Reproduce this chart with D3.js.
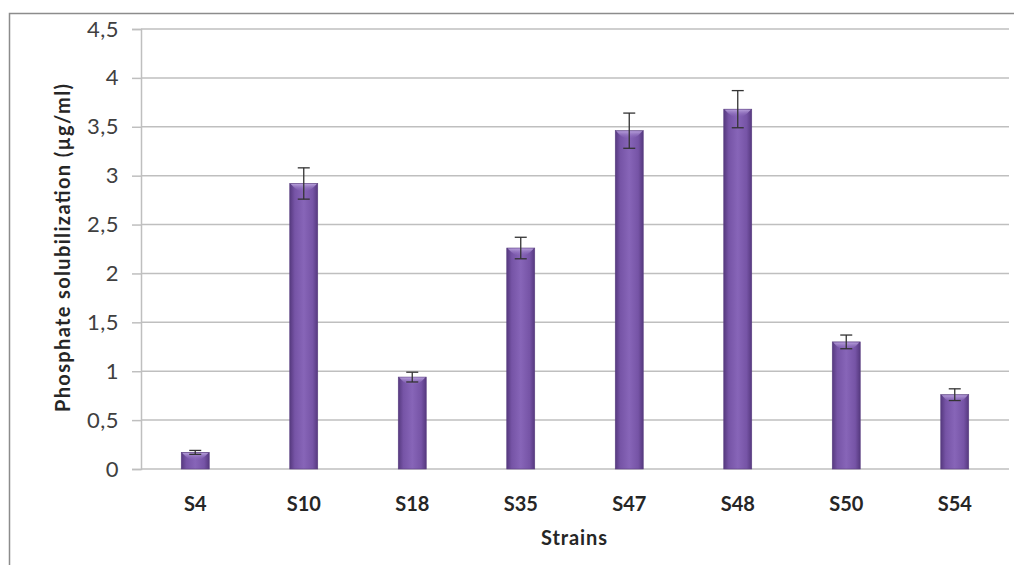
<!DOCTYPE html>
<html><head><meta charset="utf-8">
<script src="https://cdn.jsdelivr.net/npm/d3@7"></script>
<style>html,body{margin:0;padding:0;background:#fff;}svg{display:block;}</style>
</head><body>
<svg id="c" width="1014" height="565"></svg>
<script>
const categories = ["S4","S10","S18","S35","S47","S48","S50","S54"];
const values = [0.17, 2.92, 0.94, 2.26, 3.46, 3.68, 1.30, 0.76];
const errors = [0.02, 0.16, 0.05, 0.11, 0.18, 0.19, 0.07, 0.06];
const yTicks = [0, 0.5, 1, 1.5, 2, 2.5, 3, 3.5, 4, 4.5];
const yTitle = "Phosphate solubilization  (µg/ml)";
const xTitle = "Strains";

const svg = d3.select("#c");
const m = {left:141, right:1009, top:29, bottom:469};
const x = d3.scaleBand().domain(categories).range([m.left, m.right]);
const y = d3.scaleLinear().domain([0, 4.5]).range([m.bottom, m.top]);
const font = "Lato, 'Open Sans', sans-serif";

// outer border
svg.append("path").attr("d","M9.5,565 V13.5 H1014").attr("fill","none").attr("stroke","#8c8c8c").attr("stroke-width",1.5);

// gradients
const defs = svg.append("defs");
const g = defs.append("linearGradient").attr("id","barg").attr("x1","0").attr("x2","1").attr("y1","0").attr("y2","0");
[[0,"#56397f"],[0.18,"#7654a6"],[0.5,"#8765b8"],[0.82,"#7654a6"],[1,"#56397f"]].forEach(s=>g.append("stop").attr("offset",s[0]).attr("stop-color",s[1]));
const cap = defs.append("linearGradient").attr("id","capg").attr("x1","0").attr("x2","0").attr("y1","0").attr("y2","1");
[[0,"#b9a2dc",0.95],[1,"#8765b8",0]].forEach(s=>cap.append("stop").attr("offset",s[0]).attr("stop-color",s[1]).attr("stop-opacity",s[2]));

// grid + ticks
const yAxis = d3.axisLeft(y).tickValues(yTicks).tickSize(9).tickFormat(d=>String(d).replace(".",","));
const ga = svg.append("g").attr("transform",`translate(${m.left},0)`).call(yAxis);
ga.select(".domain").attr("stroke","#bfbfbf").attr("stroke-width",1.5);
ga.selectAll(".tick line").attr("stroke","#bfbfbf").attr("stroke-width",1.5);
ga.selectAll(".tick text").attr("x",-22).attr("font-family",font).attr("font-size",22).attr("letter-spacing",0.5).attr("fill","#404040");
svg.append("g").selectAll("line").data(yTicks).join("line")
  .attr("x1",m.left).attr("x2",m.right).attr("y1",d=>y(d)).attr("y2",d=>y(d))
  .attr("stroke","#bfbfbf").attr("stroke-width",1.5);

// bars
const bw = 28;
const bars = svg.append("g").selectAll("g").data(categories).join("g");
bars.append("rect")
  .attr("x",(d)=>x(d)+x.bandwidth()/2-bw/2).attr("y",(d,i)=>y(values[i]))
  .attr("width",bw).attr("height",(d,i)=>y(0)-y(values[i]))
  .attr("fill","url(#barg)").attr("stroke","#5a3f80").attr("stroke-width",0.6);
bars.append("path")
  .attr("d",(d,i)=>{const x0=x(d)+x.bandwidth()/2-bw/2, t=y(values[i]); const h=Math.min(10,(y(0)-t)*0.6);
    return `M${x0+1},${t+0.5} H${x0+bw-1} Q${x0+bw/2},${t+h*1.6} ${x0+1},${t+0.5} Z`;})
  .attr("fill","url(#capg)");

// error bars
const eb = svg.append("g").attr("stroke","#333").attr("stroke-width",1.3);
categories.forEach((c,i)=>{
  const cx = x(c)+x.bandwidth()/2, hi=y(values[i]+errors[i]), lo=y(values[i]-errors[i]);
  eb.append("line").attr("x1",cx).attr("x2",cx).attr("y1",hi).attr("y2",lo);
  eb.append("line").attr("x1",cx-6).attr("x2",cx+6).attr("y1",hi).attr("y2",hi);
  eb.append("line").attr("x1",cx-6).attr("x2",cx+6).attr("y1",lo).attr("y2",lo);
});

// x labels
svg.append("g").selectAll("text").data(categories).join("text")
  .attr("x",d=>x(d)+x.bandwidth()/2).attr("y",511).attr("text-anchor","middle")
  .attr("font-family",font).attr("font-weight","bold").attr("font-size",20).attr("fill","#262626").text(d=>d);

svg.append("text").attr("x",574).attr("y",545).attr("text-anchor","middle")
  .attr("font-family",font).attr("font-weight","bold").attr("font-size",20).attr("fill","#262626")
  .attr("textLength",66).attr("lengthAdjust","spacing").text(xTitle);
svg.append("text").attr("transform","translate(70,248) rotate(-90)").attr("text-anchor","middle")
  .attr("font-family",font).attr("font-weight","bold").attr("font-size",20).attr("fill","#262626")
  .attr("textLength",328).attr("lengthAdjust","spacing").text(yTitle);
</script>
</body></html>
